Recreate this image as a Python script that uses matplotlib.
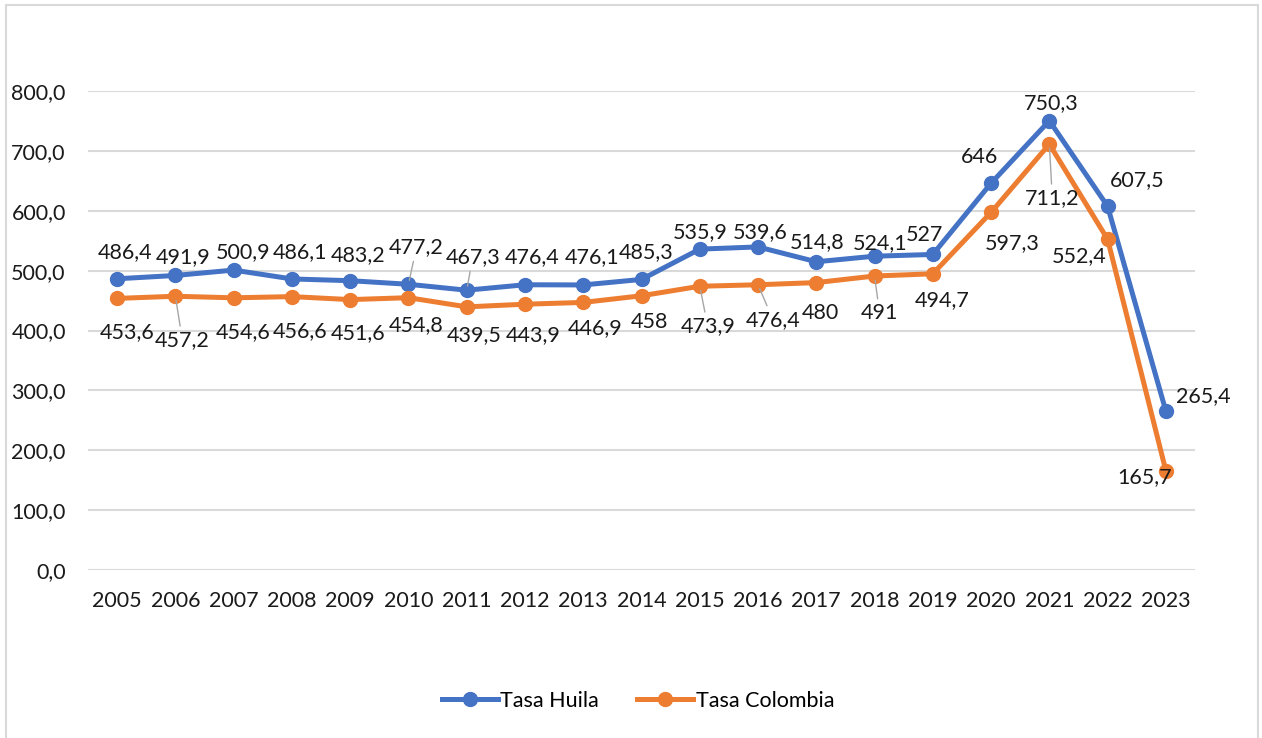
import matplotlib.pyplot as plt
from matplotlib.patches import Rectangle
import numpy as np

plt.rcParams['font.family'] = ['Lato', 'DejaVu Sans']

# datos
years = ['2005', '2006', '2007', '2008', '2009', '2010', '2011', '2012', '2013', '2014',
         '2015', '2016', '2017', '2018', '2019', '2020', '2021', '2022', '2023']
tasa_huila = [486.4, 491.9, 500.9, 486.1, 483.2, 477.2, 467.3, 476.4, 476.1, 485.3,
              535.9, 539.6, 514.8, 524.1, 527, 646, 750.3, 607.5, 265.4]
tasa_colombia = [453.6, 457.2, 454.6, 456.6, 451.6, 454.8, 439.5, 443.9, 446.9, 458,
                 473.9, 476.4, 480, 491, 494.7, 597.3, 711.2, 552.4, 165.7]

# desplazamiento de etiquetas (pixeles) y si llevan linea guia
off_huila = [(8, 27), (8, 18), (9, 18), (8, 27), (8, 26), (8, 37), (6, 33), (7, 28), (9, 28), (5, 27),
             (0, 17), (2, 15), (1, 20), (6, 13), (-8, 19), (-12, 26), (2, 18), (30, 26), (37, 15)]
lead_huila = [False] * 5 + [True, True] + [False] * 12
off_col = [(10, -34), (7, -44), (9, -34), (8, -34), (8, -33), (8, -27), (7, -28), (8, -31), (12, -26), (8, -26),
           (8, -40), (15, -35), (4, -30), (5, -37), (9, -26), (21, -31), (3, -54), (-28, -17), (-21, -6)]
lead_col = [False, True] + [False] * 8 + [True, True, False, True, False, False, True, False, False]

blue = '#4472C4'
orange = '#ED7D31'
fs = 15.5

fig = plt.figure(figsize=(12.62, 7.38), dpi=100)
ax = fig.add_axes([88 / 1262, 1 - 570 / 738, (1195 - 88) / 1262, (570 - 91) / 738])

x = np.arange(len(years))
ax.plot(x, tasa_huila, color=blue, lw=3.6, marker='o', ms=10, label='Tasa Huila', zorder=3)
ax.plot(x, tasa_colombia, color=orange, lw=3.6, marker='o', ms=10, label='Tasa Colombia', zorder=3)


def fmt(v):
    return f"{v:g}".replace('.', ',')


def etiquetas(vals, offs, leads):
    for i, v in enumerate(vals):
        dx, dy = offs[i]
        props = None
        if leads[i]:
            props = dict(arrowstyle='-', color='#A6A6A6', lw=1, shrinkA=1, shrinkB=3)
        ax.annotate(fmt(v), (x[i], v), xytext=(dx, dy), textcoords='offset pixels',
                    ha='center', va='center', fontsize=fs, color='#1a1a1a',
                    arrowprops=props, annotation_clip=False, zorder=4)


etiquetas(tasa_huila, off_huila, lead_huila)
etiquetas(tasa_colombia, off_col, lead_col)

ax.set_xlim(-0.5, len(years) - 0.5)
ax.set_ylim(0, 800)
ax.set_xticks(x)
ax.set_xticklabels(years)
ax.set_yticks(np.arange(0, 801, 100))
ax.set_yticklabels([f"{t:.1f}".replace('.', ',') for t in np.arange(0, 801, 100)])
ax.tick_params(length=0, labelsize=fs, colors='#1a1a1a')
ax.tick_params(axis='x', pad=15)
ax.tick_params(axis='y', pad=16)
ax.grid(axis='y', color='#D9D9D9', lw=1.5)
ax.set_axisbelow(True)
for s in ax.spines.values():
    s.set_visible(False)

# borde del area del grafico
fig.patches.append(Rectangle((6 / 1262, -0.05), (1258 - 6) / 1262, 1.05 - 5 / 738,
                             transform=fig.transFigure, fill=False, ec='#D9D9D9', lw=1.5))

fig.legend(loc='center', bbox_to_anchor=(638 / 1262, 1 - 701 / 738), ncol=2, frameon=False,
           fontsize=fs, handlelength=2.6, columnspacing=1.8, handletextpad=0.1)

fig.savefig('out.png', dpi=100)
